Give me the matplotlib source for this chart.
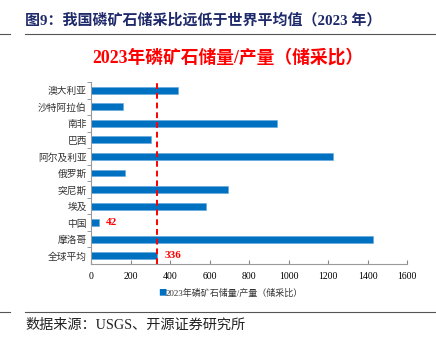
import matplotlib
matplotlib.use("Agg")
import matplotlib.pyplot as plt
from matplotlib.lines import Line2D

plt.rcParams['font.family'] = ['Noto Sans CJK SC', 'DejaVu Sans']

categories = ["澳大利亚", "沙特阿拉伯", "南非", "巴西", "阿尔及利亚", "俄罗斯",
              "突尼斯", "埃及", "中国", "摩洛哥", "全球平均"]
values = [439, 164, 940, 302, 1223, 170, 695, 582, 42, 1430, 336]
xticks = [0, 200, 400, 600, 800, 1000, 1200, 1400, 1600]
avg_value = 336
annot_labels = {"中国": "42", "全球平均": "336"}

SERIF_CJK = ["Liberation Serif", "Noto Sans CJK SC"]

W, H = 436, 341
fig = plt.figure(figsize=(W / 100, H / 100), dpi=100)

ax = fig.add_axes([91 / W, 1 - 264 / H, (407 - 91) / W, (264 - 82) / H])
ypos = list(range(len(categories)))[::-1]
ax.barh(ypos, values, height=0.42, color="#0070C0", edgecolor="#5FA8E0", linewidth=0.4, zorder=2)
ax.set_ylim(-0.5, len(categories) - 0.5)
ax.set_xlim(xticks[0], xticks[-1])
ax.set_xticks(xticks)
ax.set_xticklabels([str(t) for t in xticks], family="Liberation Serif", fontsize=7)
ax.set_yticks(ypos)
ax.set_yticklabels(categories, fontsize=7, color="#333333")
ax.set_yticks([y + 0.5 for y in range(len(categories))], minor=True)
ax.tick_params(axis='y', which='major', length=0, pad=3)
ax.tick_params(axis='y', which='minor', length=3, color="#888888", direction='out')
ax.tick_params(axis='x', length=3, color="#888888", direction='in', pad=6)
for s in ["top", "right"]:
    ax.spines[s].set_visible(False)
ax.spines["left"].set_color("#999999")
ax.spines["bottom"].set_color("#999999")

ax.axvline(avg_value, color="#FF0000", linestyle=(0, (3, 2)), linewidth=1.4, zorder=3)

for cat, lab in annot_labels.items():
    i = categories.index(cat)
    ax.text(values[i] + 35, ypos[i], lab, color="#FF0000", fontsize=8, fontweight="bold",
            family="Liberation Serif", va="center", ha="left")

# Titles
fig.text(25 / W, 1 - 20 / H, "图9：我国磷矿石储采比远低于世界平均值（2023 年）",
         fontsize=10.8, fontweight="bold", color="#1F2A6B", va="center", ha="left",
         family=SERIF_CJK)
fig.add_artist(Line2D([0, 10 / W], [1 - 34 / H] * 2, color="#555555", lw=0.8))
fig.add_artist(Line2D([25 / W, 1], [1 - 34 / H] * 2, color="#555555", lw=0.8))
fig.text(228 / W, 1 - 58 / H, "2023年磷矿石储量/产量（储采比）",
         fontsize=12.8, fontweight="bold", color="#FF0000", va="center", ha="center",
         family=SERIF_CJK)

# Legend
fig.text(158 / W, 1 - 293 / H, "■", fontsize=6, color="#0070C0", va="center", ha="left")
fig.text(166 / W, 1 - 293 / H, "2023年磷矿石储量/产量（储采比）", fontsize=6.5, color="#333333",
         va="center", ha="left", family=SERIF_CJK)

# Footer
fig.add_artist(Line2D([0, 10 / W], [1 - 312 / H] * 2, color="#555555", lw=0.8))
fig.add_artist(Line2D([25 / W, 1], [1 - 312 / H] * 2, color="#555555", lw=0.8))
fig.text(25 / W, 1 - 325 / H, "数据来源：USGS、开源证券研究所", fontsize=10.2, color="#222222",
         va="center", ha="left", family=SERIF_CJK)

fig.savefig("out.png", dpi=100)
